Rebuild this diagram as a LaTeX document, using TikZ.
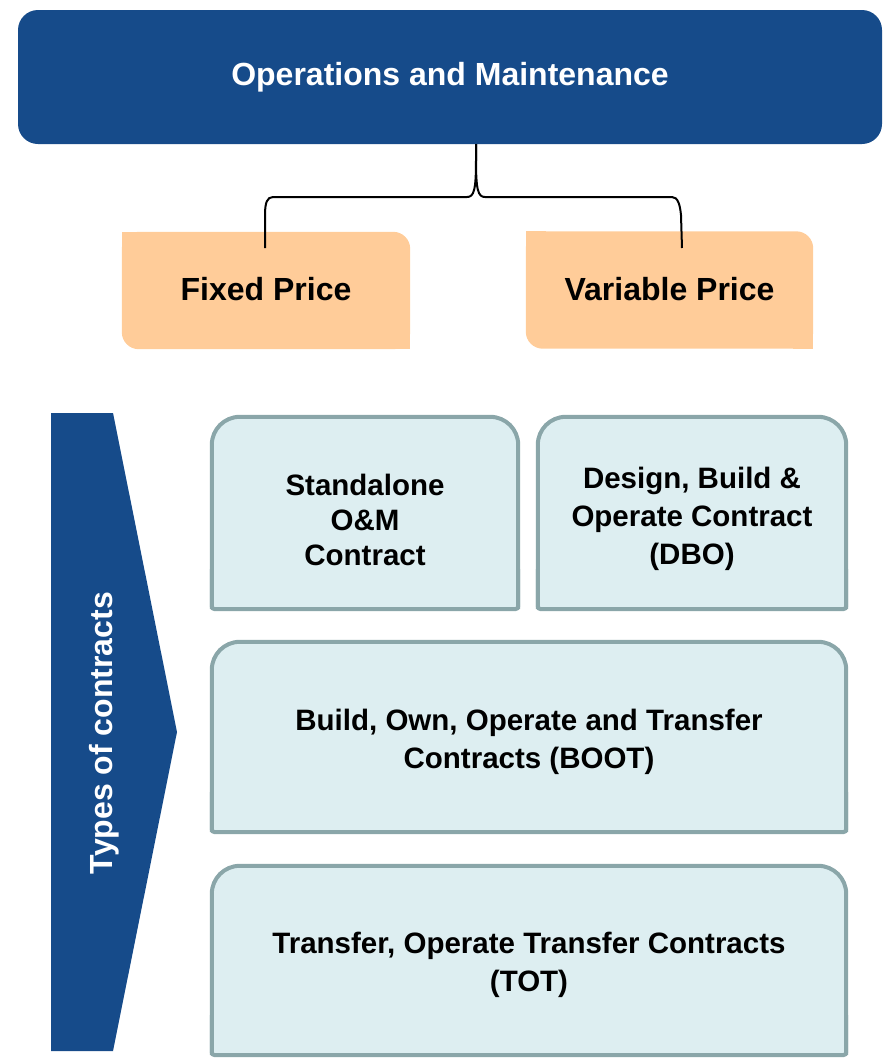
\documentclass[tikz,border=0pt]{standalone}
\usepackage{fontspec}
\setmainfont{Liberation Sans}
\definecolor{omblue}{RGB}{22,75,138}
\definecolor{pricefill}{RGB}{255,204,153}
\definecolor{contfill}{RGB}{221,238,241}
\definecolor{contline}{RGB}{138,166,169}
\tikzset{
  bigtext/.style={font=\fontsize{32}{37}\selectfont\bfseries},
  boxtext/.style={font=\fontsize{29.5}{38}\selectfont\bfseries, align=center},
  titlebox/.style={bigtext, fill=omblue, text=white, rounded corners=20pt, inner sep=0pt},
  pricebox/.style={bigtext, inner sep=0pt},
  contbox/.style={boxtext, inner sep=0pt},
  brace/.style={line width=2pt},
}
\begin{document}
\begin{tikzpicture}[x=1pt, y=-1pt]
  \useasboundingbox (0,0) rectangle (883,1061);

  \node[titlebox, minimum width=864pt, minimum height=134pt] (om) at (450,77) {Operations and Maintenance};

  \node[pricebox, minimum width=288pt, minimum height=117pt] (fixed) at (266,290.5) {};
  \node[pricebox, minimum width=287pt, minimum height=117pt] (variable) at (669.5,290) {};
  \foreach \n in {fixed, variable} {
    \fill[pricefill, rounded corners=17pt] (\n.south west) rectangle (\n.north east);
    \fill[pricefill] (\n.north west) rectangle ([xshift=20pt, yshift=-20pt]\n.north west);
    \fill[pricefill] (\n.south east) rectangle ([xshift=-20pt, yshift=20pt]\n.south east);
  }
  \node[bigtext] at ([yshift=1pt]fixed) {Fixed Price};
  \node[bigtext] at ([yshift=1pt]variable) {Variable Price};

  \coordinate (brtop) at (476,144);
  \coordinate (brl) at (265,248);
  \coordinate (brr) at (682,248);
  \draw[brace] (brtop) -- (476,160) .. controls (476,190) and (474,197) .. (467,197) -- (273,197)
    .. controls (267,197) and (265,203) .. (265,215) -- (brl);
  \draw[brace] (brtop) -- (476,160) .. controls (476,190) and (478,197) .. (485,197) -- (672,197)
    .. controls (678,197) and (680,205) .. (681,215) -- (brr);

  \fill[omblue] (51,413) -- (113,413) -- (177,732) -- (113,1051) -- (51,1051) -- cycle;
  \node[bigtext, text=white, rotate=90] (types) at (104,733) {Types of contracts};

  \node[contbox, minimum width=306pt, minimum height=192pt] (standalone) at (365,513) {};
  \node[contbox, minimum width=308pt, minimum height=192pt] (dbo) at (692,513) {};
  \node[contbox, minimum width=634pt, minimum height=190pt] (boot) at (529,737) {};
  \node[contbox, minimum width=634pt, minimum height=189pt] (tot) at (529,960.5) {};
  \foreach \n in {standalone, dbo, boot, tot} {
    \fill[contfill, rounded corners=28pt] (\n.south west) rectangle (\n.north east);
    \fill[contfill] (\n.south west) rectangle ([yshift=40pt]\n.south east);
    \draw[contline, line width=4pt, rounded corners=28pt] (\n.south west) -- (\n.north west) -- (\n.north east) -- (\n.south east);
    \draw[contline, line width=4pt, rounded corners=3pt] ([yshift=40pt]\n.south west) -- (\n.south west) -- (\n.south east) -- ([yshift=40pt]\n.south east);
  }
  \node[boxtext, font=\fontsize{29.5}{35}\selectfont\bfseries] at ([yshift=-7pt]standalone) {Standalone\\O\&M\\Contract};
  \node[boxtext] at ([yshift=-6pt]dbo) {Design, Build \&\\Operate Contract\\(DBO)};
  \node[boxtext] at ([yshift=-5pt]boot) {Build, Own, Operate and Transfer\\Contracts (BOOT)};
  \node[boxtext] at ([yshift=-4pt]tot) {Transfer, Operate Transfer Contracts\\(TOT)};
\end{tikzpicture}
\end{document}
